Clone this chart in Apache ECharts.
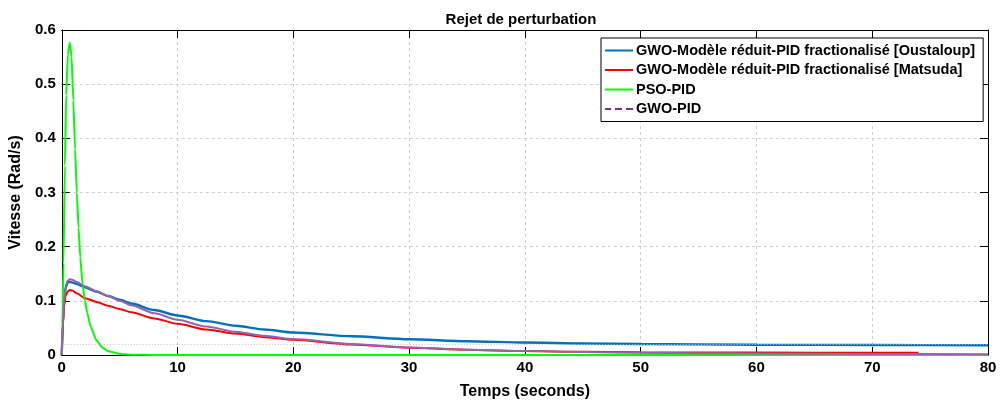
<!DOCTYPE html>
<html>
<head>
<meta charset="utf-8">
<script src="https://cdn.jsdelivr.net/npm/echarts@6/dist/echarts.min.js"></script>
<style>
html,body{margin:0;padding:0;background:#fff;}
#chart{width:1001px;height:405px;}
</style>
</head>
<body>
<div id="chart"></div>
<script>
// ---- data ----
const seriesNames = [
  'GWO-Modèle réduit-PID fractionalisé [Oustaloup]',
  'GWO-Modèle réduit-PID fractionalisé [Matsuda]',
  'PSO-PID',
  'GWO-PID'
];
const xTicks = [0, 10, 20, 30, 40, 50, 60, 70, 80];
const yTicks = [0, 0.1, 0.2, 0.3, 0.4, 0.5, 0.6];

const tOustaloup = [0, 0.1, 0.2, 0.35, 0.5, 0.65, 0.9, 1.3, 2, 3, 4, 5, 6, 8, 10, 12.5, 15, 17.5, 20, 25, 30, 35, 40, 45, 50, 60, 70, 80];
const vOustaloup = [0, 0.06, 0.1, 0.125, 0.133, 0.135, 0.134, 0.131, 0.125, 0.117, 0.109, 0.102, 0.095, 0.083, 0.073, 0.0625, 0.054, 0.047, 0.0415, 0.0345, 0.029, 0.0255, 0.023, 0.0213, 0.0202, 0.019, 0.0184, 0.018];

const tMatsuda = [0, 0.1, 0.2, 0.35, 0.5, 0.7, 0.9, 1.3, 2, 3, 4, 5, 6, 8, 10, 12.5, 15, 17.5, 20, 25, 30, 35, 40, 45, 50, 60, 70, 74];
const vMatsuda = [0, 0.055, 0.09, 0.11, 0.117, 0.12, 0.119, 0.114, 0.105, 0.098, 0.091, 0.085, 0.079, 0.0675, 0.0575, 0.047, 0.0395, 0.033, 0.028, 0.0195, 0.0135, 0.0095, 0.0072, 0.0058, 0.005, 0.0044, 0.0041, 0.004];

const tPSO = [0, 0.05, 0.15, 0.27, 0.38, 0.53, 0.7, 0.85, 1.0, 1.15, 1.3, 1.45, 1.6, 1.8, 2.0, 2.2, 2.5, 3.0, 3.5, 4.0, 5.0, 6.0, 8, 20, 40, 60, 80];
const vPSO = [0, 0.04, 0.17, 0.35, 0.48, 0.555, 0.577, 0.55, 0.47, 0.38, 0.30, 0.235, 0.18, 0.13, 0.1, 0.078, 0.052, 0.027, 0.014, 0.007, 0.002, 0.0005, 0, 0, 0, 0, 0];

const tGWO = [0, 0.1, 0.2, 0.35, 0.5, 0.7, 0.9, 1.3, 2, 3, 4, 5, 6, 8, 10, 12.5, 15, 17.5, 20, 25, 30, 35, 40, 45, 50, 55, 60, 70, 80];
const vGWO = [0, 0.06, 0.1, 0.128, 0.137, 0.14, 0.139, 0.135, 0.127, 0.118, 0.109, 0.1, 0.092, 0.077, 0.065, 0.0525, 0.043, 0.0355, 0.0295, 0.0205, 0.014, 0.0098, 0.0072, 0.0054, 0.0042, 0.0034, 0.0028, 0.002, 0.0015];

const refLevel = 0.018;

// ---- build chart ----
const pair = (t, v) => t.map((x, i) => [x, v[i]]);
const font = 'Arial, "Liberation Sans", Helvetica, sans-serif';
const colors = ['#0072BD', '#FF0000', '#00FF00', '#7E2F8E'];

const chart = echarts.init(document.getElementById('chart'), null, {renderer: 'canvas'});

const gridLine = {show: true, lineStyle: {color: '#cfcfcf', type: [3, 3], width: 1}};
const tickIn = {show: true, inside: true, length: 8, lineStyle: {color: '#000', width: 1}};

const mkLine = (name, data, color, extra) => Object.assign({
  name: name,
  type: 'line',
  data: data,
  showSymbol: false,
  symbol: 'none',
  smooth: 0.25,
  smoothMonotone: 'x',
  lineStyle: {color: color, width: 2},
  itemStyle: {color: color},
  animation: false
}, extra || {});

chart.setOption({
  animation: false,
  backgroundColor: '#fff',
  title: {
    text: 'Rejet de perturbation',
    left: 516, top: 7, textAlign: 'center',
    textStyle: {fontFamily: font, fontSize: 15, fontWeight: 'bold', color: '#000'}
  },
  grid: {left: 59, right: 13, top: 30, bottom: 50, containLabel: false},
  legend: {
    orient: 'vertical',
    left: 601, top: 38,
    padding: [5, 8, 5, 4],
    itemGap: 4.5,
    itemWidth: 28, itemHeight: 14,
    backgroundColor: '#fff',
    borderColor: '#000', borderWidth: 1,
    icon: 'path://M0,6L28,6L28,8L0,8Z',
    textStyle: {fontFamily: font, fontSize: 14.5, lineHeight: 15, fontWeight: 'bold', color: '#000', padding: [0, 0, 0, -2]},
    data: [
      {name: seriesNames[0], itemStyle: {color: colors[0]}},
      {name: seriesNames[1], itemStyle: {color: colors[1]}},
      {name: seriesNames[2], itemStyle: {color: colors[2]}},
      {name: seriesNames[3], icon: 'path://M0,6L6,6L6,8L0,8Z M10,6L17,6L17,8L10,8Z M21,6L28,6L28,8L21,8Z', itemStyle: {color: colors[3]}}
    ]
  },
  xAxis: [{
    type: 'value', min: xTicks[0], max: xTicks[xTicks.length - 1], interval: 10,
    position: 'bottom',
    name: 'Temps (seconds)', nameLocation: 'middle', nameGap: 29,
    nameTextStyle: {fontFamily: font, fontSize: 16, fontWeight: 'bold', color: '#000'},
    axisLine: {show: true, onZero: false, lineStyle: {color: '#000', width: 1}},
    axisTick: tickIn,
    axisLabel: {fontFamily: font, fontSize: 15, fontWeight: 'bold', color: '#000', margin: 5},
    splitLine: gridLine
  }, {
    type: 'value', min: xTicks[0], max: xTicks[xTicks.length - 1], interval: 10,
    position: 'top',
    axisLine: {show: true, onZero: false, lineStyle: {color: '#000', width: 1}},
    axisTick: tickIn,
    axisLabel: {show: false},
    splitLine: {show: false}
  }],
  yAxis: [{
    type: 'value', min: yTicks[0], max: yTicks[yTicks.length - 1], interval: 0.1,
    position: 'left',
    name: 'Vitesse (Rad/s)', nameLocation: 'middle', nameGap: 30,
    nameTextStyle: {fontFamily: font, fontSize: 16, fontWeight: 'bold', color: '#000'},
    axisLine: {show: true, onZero: false, lineStyle: {color: '#000', width: 1}},
    axisTick: tickIn,
    axisLabel: {fontFamily: font, fontSize: 15, fontWeight: 'bold', color: '#000', margin: 6,
      formatter: v => (Math.round(v * 10) / 10).toString()},
    splitLine: gridLine
  }, {
    type: 'value', min: yTicks[0], max: yTicks[yTicks.length - 1], interval: 0.1,
    position: 'right',
    axisLine: {show: true, onZero: false, lineStyle: {color: '#000', width: 1}},
    axisTick: tickIn,
    axisLabel: {show: false},
    splitLine: {show: false}
  }],
  series: [
    mkLine(seriesNames[0], pair(tOustaloup, vOustaloup), colors[0], {
      z: 2,
      lineStyle: {color: colors[0], width: 2.4},
      markLine: {
        silent: true, symbol: ['none', 'none'], label: {show: false},
        lineStyle: {color: '#c4c4c4', type: [1, 2], width: 1},
        data: [{yAxis: refLevel}],
        animation: false
      }
    }),
    mkLine(seriesNames[1], pair(tMatsuda, vMatsuda), colors[1], {z: 3}),
    mkLine(seriesNames[2], pair(tPSO, vPSO), colors[2], {z: 4, smooth: 0.15}),
    mkLine(seriesNames[3], pair(tGWO, vGWO), '#9a62aa', {z: 5, lineStyle: {color: '#9a62aa', width: 2}})
  ]
});
</script>
</body>
</html>
